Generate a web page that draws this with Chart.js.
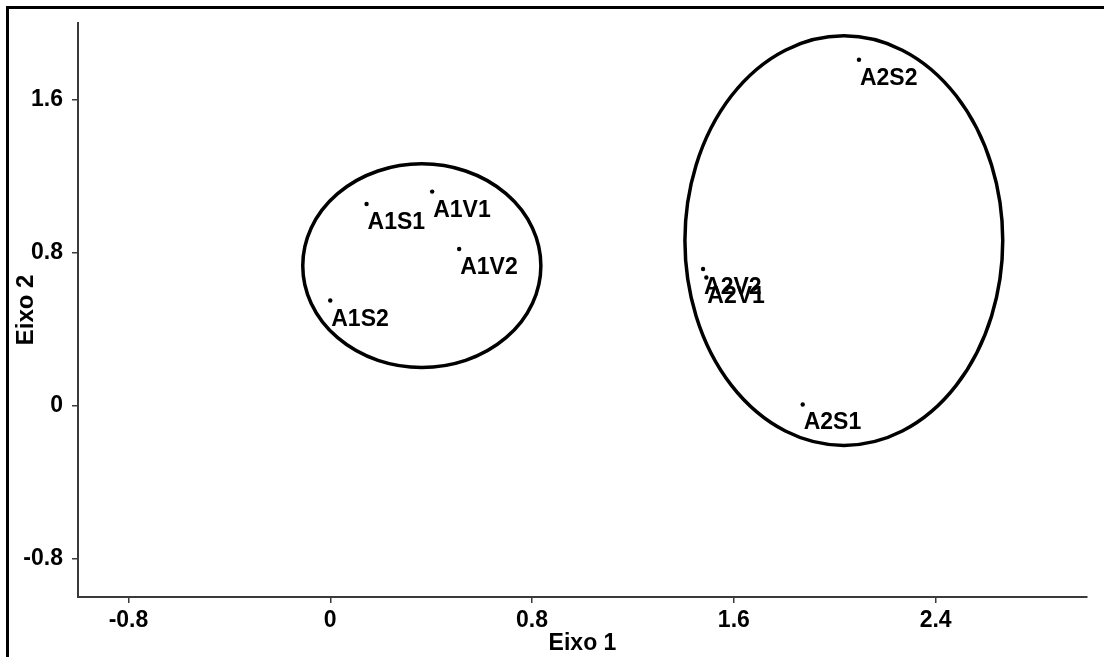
<!DOCTYPE html>
<html>
<head>
<meta charset="utf-8">
<script src="https://cdn.jsdelivr.net/npm/chart.js@4.4.1/dist/chart.umd.min.js"></script>
<style>
  html, body { margin: 0; padding: 0; background: #fff; }
  canvas { display: block; }
</style>
</head>
<body>
<canvas id="pcaChart" width="1104" height="657"></canvas>
<script>
// Scores (Eixo 1, Eixo 2)
const pointLabels = ['A1S1', 'A1V1', 'A1V2', 'A1S2', 'A2S2', 'A2V2', 'A2V1', 'A2S1'];
const eixo1Values = [0.144, 0.404, 0.511, 0.0, 2.096, 1.478, 1.491, 1.873];
const eixo2Values = [1.053, 1.118, 0.818, 0.549, 1.807, 0.714, 0.669, 0.006];

// group ellipses: centre and half-axes in data units
const ellipseCx = [0.363, 2.036];
const ellipseCy = [0.731, 0.862];
const ellipseRx = [0.472, 0.630];
const ellipseRy = [0.532, 1.070];

const xTicks = [-0.8, 0, 0.8, 1.6, 2.4];
const yTicks = [-0.8, 0, 0.8, 1.6];

const FONT = '"Liberation Sans", Arial, sans-serif';
const axisColor = '#3a3a3a';

const points = eixo1Values.map((x, i) => ({ x: x, y: eixo2Values[i] }));

const fmt = v => Number(v.toFixed(1)).toString();

// ellipses behind the points
const ellipsePlugin = {
    id: 'ellipses',
    beforeDatasetsDraw(chart) {
        const { ctx, scales: { x, y } } = chart;
        ctx.save();
        ctx.strokeStyle = '#000';
        ctx.lineWidth = 3.5;
        for (let i = 0; i < ellipseCx.length; i++) {
            const cx = x.getPixelForValue(ellipseCx[i]);
            const cy = y.getPixelForValue(ellipseCy[i]);
            const rx = Math.abs(x.getPixelForValue(ellipseCx[i] + ellipseRx[i]) - cx);
            const ry = Math.abs(y.getPixelForValue(ellipseCy[i] + ellipseRy[i]) - cy);
            ctx.beginPath();
            ctx.ellipse(cx, cy, rx, ry, 0, 0, Math.PI * 2);
            ctx.stroke();
        }
        ctx.restore();
    }
};

// text next to each point
const labelPlugin = {
    id: 'pointNames',
    afterDatasetsDraw(chart) {
        const { ctx } = chart;
        const meta = chart.getDatasetMeta(0);
        ctx.save();
        ctx.fillStyle = '#000';
        ctx.font = 'bold 23px ' + FONT;
        ctx.textAlign = 'left';
        ctx.textBaseline = 'alphabetic';
        meta.data.forEach((pt, i) => {
            ctx.fillText(pointLabels[i], pt.x + 1, pt.y + 25);
        });
        ctx.restore();
    }
};

// outer frame (top and left only)
const framePlugin = {
    id: 'frame',
    afterDraw(chart) {
        const { ctx, width, height } = chart;
        ctx.save();
        ctx.strokeStyle = '#000';
        ctx.lineWidth = 3;
        ctx.beginPath();
        ctx.moveTo(7.5, height);
        ctx.lineTo(7.5, 7.5);
        ctx.lineTo(width, 7.5);
        ctx.stroke();
        ctx.restore();
    }
};

new Chart(document.getElementById('pcaChart'), {
    type: 'scatter',
    data: {
        datasets: [{
            data: points,
            pointRadius: 2.2,
            pointBackgroundColor: '#000',
            pointBorderWidth: 0,
            showLine: false
        }]
    },
    options: {
        responsive: false,
        animation: false,
        devicePixelRatio: 1,
        layout: { padding: { top: 22, right: 17, left: 0, bottom: 0 } },
        plugins: {
            legend: { display: false },
            tooltip: { enabled: false }
        },
        scales: {
            x: {
                type: 'linear',
                min: -1,
                max: 3,
                afterBuildTicks: s => { s.ticks = xTicks.map(v => ({ value: v })); },
                afterFit: s => { s.height = 60; },
                border: { display: true, color: axisColor, width: 2 },
                grid: { drawOnChartArea: false, drawTicks: true, tickLength: 6, color: axisColor, lineWidth: 1.5 },
                ticks: {
                    color: '#000',
                    padding: 4,
                    maxRotation: 0,
                    font: { family: FONT, size: 23, weight: 'bold' },
                    callback: v => fmt(v)
                },
                title: {
                    display: true,
                    text: 'Eixo 1',
                    color: '#000',
                    padding: { top: 0, bottom: 0 },
                    font: { family: FONT, size: 23, weight: 'bold' }
                }
            },
            y: {
                type: 'linear',
                min: -1,
                max: 2,
                afterBuildTicks: s => { s.ticks = yTicks.map(v => ({ value: v })); },
                afterFit: s => { s.width = 78; },
                border: { display: true, color: axisColor, width: 2 },
                grid: { drawOnChartArea: false, drawTicks: true, tickLength: 6, color: axisColor, lineWidth: 1.5 },
                ticks: {
                    color: '#000',
                    padding: 9,
                    font: { family: FONT, size: 23, weight: 'bold' },
                    callback: v => fmt(v)
                },
                title: {
                    display: true,
                    text: 'Eixo 2',
                    color: '#000',
                    padding: { top: 12, bottom: 0 },
                    font: { family: FONT, size: 24, weight: 'bold' }
                }
            }
        }
    },
    plugins: [ellipsePlugin, labelPlugin, framePlugin]
});
</script>
</body>
</html>
